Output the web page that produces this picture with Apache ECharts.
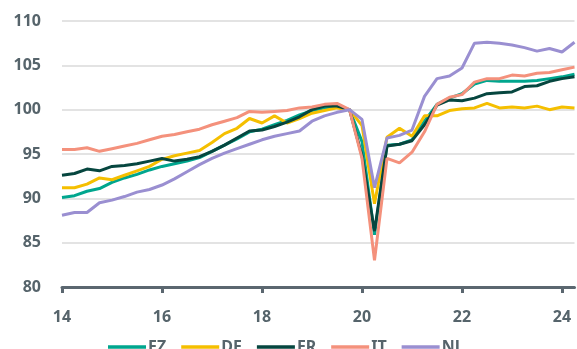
<!DOCTYPE html>
<html>
<head>
<meta charset="utf-8">
<script src="https://cdn.jsdelivr.net/npm/echarts@6/dist/echarts.min.js"></script>
<style>
  html, body { margin: 0; padding: 0; background: #ffffff; }
  #chart { width: 577px; height: 349px; }
</style>
</head>
<body>
<div id="chart"></div>
<script>
// Quarterly index, 2019Q4 = 100
const quarters = [
  '2014Q1','2014Q2','2014Q3','2014Q4','2015Q1','2015Q2','2015Q3','2015Q4',
  '2016Q1','2016Q2','2016Q3','2016Q4','2017Q1','2017Q2','2017Q3','2017Q4',
  '2018Q1','2018Q2','2018Q3','2018Q4','2019Q1','2019Q2','2019Q3','2019Q4',
  '2020Q1','2020Q2','2020Q3','2020Q4','2021Q1','2021Q2','2021Q3','2021Q4',
  '2022Q1','2022Q2','2022Q3','2022Q4','2023Q1','2023Q2','2023Q3','2023Q4',
  '2024Q1','2024Q2'
];

const ez = [90.1, 90.3, 90.8, 91.1, 91.8, 92.3, 92.7, 93.2, 93.6, 93.9, 94.2, 94.6,
  95.3, 96.0, 96.7, 97.5, 97.8, 98.3, 98.8, 99.4, 99.9, 100.2, 100.3, 100.0,
  96.4, 85.9, 96.0, 96.1, 96.6, 98.7, 100.6, 101.3, 101.8, 102.9, 103.3, 103.2,
  103.2, 103.2, 103.3, 103.5, 103.7, 104.0];

const de = [91.2, 91.2, 91.6, 92.3, 92.1, 92.6, 93.1, 93.6, 94.4, 94.8, 95.1, 95.4,
  96.3, 97.3, 97.9, 99.0, 98.5, 99.3, 98.5, 99.0, 99.6, 99.9, 100.2, 100.0,
  98.2, 89.4, 96.9, 97.9, 97.0, 99.3, 99.3, 99.9, 100.1, 100.2, 100.7, 100.2,
  100.3, 100.2, 100.4, 100.0, 100.3, 100.2];

const fr = [92.6, 92.8, 93.3, 93.1, 93.6, 93.7, 93.9, 94.2, 94.5, 94.2, 94.4, 94.7,
  95.3, 96.0, 96.8, 97.6, 97.7, 98.1, 98.6, 99.2, 100.0, 100.4, 100.4, 100.0,
  94.8, 86.3, 95.9, 96.1, 96.5, 98.3, 100.5, 101.1, 101.0, 101.3, 101.8, 101.9,
  102.0, 102.6, 102.7, 103.2, 103.5, 103.7];

const it = [95.5, 95.5, 95.7, 95.3, 95.6, 95.9, 96.2, 96.6, 97.0, 97.2, 97.5, 97.8,
  98.3, 98.7, 99.1, 99.8, 99.7, 99.8, 99.9, 100.2, 100.3, 100.6, 100.7, 100.0,
  94.5, 83.0, 94.5, 94.0, 95.2, 97.5, 100.6, 101.4, 101.7, 103.1, 103.5, 103.5,
  103.9, 103.8, 104.1, 104.2, 104.5, 104.8];

const nl = [88.1, 88.4, 88.4, 89.5, 89.8, 90.2, 90.7, 91.0, 91.5, 92.2, 93.0, 93.8,
  94.5, 95.1, 95.6, 96.1, 96.6, 97.0, 97.3, 97.6, 98.7, 99.3, 99.7, 100.0,
  98.9, 91.2, 96.8, 97.1, 97.7, 101.5, 103.5, 103.8, 104.7, 107.5, 107.6, 107.5,
  107.3, 107.0, 106.6, 106.9, 106.5, 107.6];

const yTicks = { min: 80, max: 110, step: 5 };

const seriesDefs = [
  { name: 'EZ', data: ez, color: '#00a68e' },
  { name: 'DE', data: de, color: '#f5bf00' },
  { name: 'FR', data: fr, color: '#06463f' },
  { name: 'IT', data: it, color: '#f4917c' },
  { name: 'NL', data: nl, color: '#9a8fd1' }
];

const textGrey = '#56646b';
const fontFamily = '"Noto Sans", Lato, sans-serif';

const chart = echarts.init(document.getElementById('chart'), null, { renderer: 'canvas' });

chart.setOption({
  animation: false,
  backgroundColor: '#ffffff',
  grid: { left: 62, right: 2.5, top: 21, height: 266, containLabel: false },
  legend: {
    left: 103,
    top: 334,
    itemWidth: 38,
    itemHeight: 3.5,
    itemGap: 15,
    icon: 'rect',
    textStyle: { color: textGrey, fontSize: 16, fontWeight: 'bold', fontFamily: fontFamily, padding: [6, 0, 0, -3] },
    data: seriesDefs.map(s => s.name)
  },
  xAxis: {
    type: 'category',
    data: quarters,
    boundaryGap: false,
    axisLine: { show: true, lineStyle: { color: '#5b6770', width: 3 } },
    axisTick: { show: true, interval: 7, length: 6, lineStyle: { color: '#5b6770', width: 3 } },
    axisLabel: {
      interval: 7,
      margin: 22,
      color: textGrey,
      fontSize: 16,
      fontWeight: 'bold',
      fontFamily: fontFamily,
      formatter: v => v.slice(2, 4)
    },
    splitLine: { show: false }
  },
  yAxis: {
    type: 'value',
    min: yTicks.min,
    max: yTicks.max,
    interval: yTicks.step,
    axisLine: { show: false },
    axisTick: { show: false },
    axisLabel: {
      margin: 21,
      color: textGrey,
      fontSize: 16,
      fontWeight: 'bold',
      fontFamily: fontFamily
    },
    splitLine: { show: true, lineStyle: { color: '#dadada', width: 1.5 } }
  },
  series: seriesDefs.map(s => ({
    name: s.name,
    type: 'line',
    data: s.data,
    showSymbol: false,
    symbol: 'none',
    smooth: false,
    color: s.color,
    lineStyle: { color: s.color, width: 3 },
    emphasis: { disabled: true }
  }))
});
</script>
</body>
</html>
